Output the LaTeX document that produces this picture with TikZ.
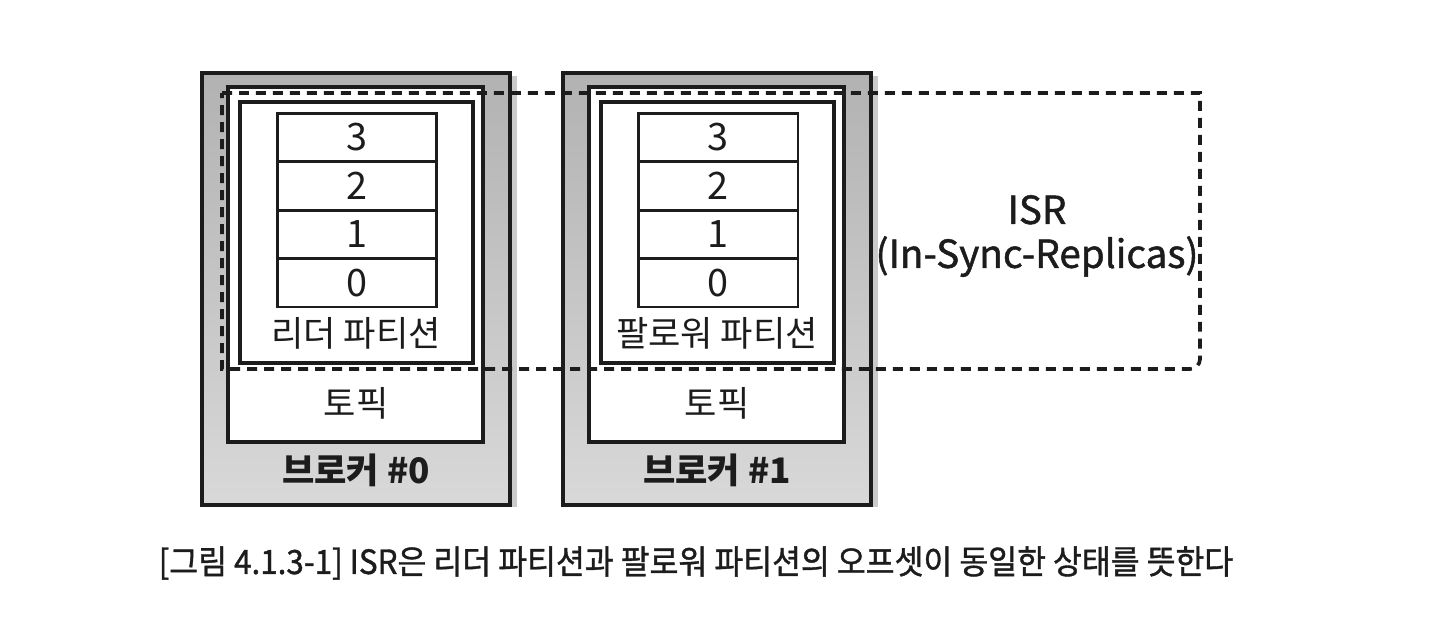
\documentclass[tikz,border=0pt]{standalone}
\usepackage{fontspec}
\setmainfont{Noto Sans CJK KR}
\newfontfamily\heavyfont[FakeBold=1.2]{Noto Sans CJK KR}
\usetikzlibrary{positioning, shadows, calc}
\definecolor{cink}{HTML}{1C1C1C}
\definecolor{cgrey}{HTML}{B2B2B2}
\definecolor{cshade}{HTML}{8A8A8A}
\tikzset{
  every picture/.style={line width=1.7pt, color=cink},
  broker/.style={draw=cink, line width=2.3pt, top color=cgrey, bottom color=cgrey!50,
    minimum width=6.16cm, minimum height=8.64cm, inner sep=0pt,
    drop shadow={shadow xshift=0.14cm, shadow yshift=-0.05cm, fill=cshade, opacity=0.45}},
  topicbox/.style={draw=cink, fill=white, line width=1.9pt, minimum width=5.1cm, minimum height=7.1cm, inner sep=0pt},
  partbox/.style={draw=cink, fill=white, line width=1.9pt, minimum width=4.66cm, minimum height=5.22cm, inner sep=0pt},
  cell/.style={draw=cink, fill=white, line width=1.7pt, minimum width=3.2cm, minimum height=0.97cm, inner sep=0pt, font=\fontsize{21.5}{21.5}\selectfont},
  label/.style={font=\fontsize{20}{20}\selectfont},
  brokerlabel/.style={font=\fontsize{20}{20}\selectfont\bfseries},
  isr/.style={dashed, dash pattern=on 0.2cm off 0.14cm, line width=2.1pt, rounded corners=0.2cm},
  caption/.style={font=\fontsize{19}{19}\selectfont\heavyfont, text=cink},
}
\begin{document}
\begin{tikzpicture}[x=0.02cm, y=-0.02cm]
  \useasboundingbox (0,0) rectangle (1429,632);
  \foreach \role [count=\k from 0] in {리더 파티션, 팔로워 파티션} {
    \node[broker] (b\k) at (356+361*\k,289) {};
    \node[topicbox] (t\k) at (355.5+361*\k,264.5) {};
    \node[partbox] (p\k) at (356.5+361*\k,232.5) {};
    \foreach \v [count=\j from 0] in {3,2,1,0}
      \node[cell] (c\k\v) at (357+361*\k,137.25+48.5*\j) {\v};
    \node[label] (pl\k) at (356+361*\k,333) {\role};
    \node[label] (tl\k) at (356+361*\k,403) {토픽};
    \node[brokerlabel] (bl\k) at (356+361*\k,470) {브로커 \#\k};
  }
  % ISR group
  \coordinate (isrNW) at (222,93);
  \coordinate (isrSE) at (1200,369);
  \draw[isr] (isrNW) [sharp corners] -- (isrNW -| isrSE) [rounded corners=0.2cm] -- (isrSE) [sharp corners] -- (isrSE -| isrNW) -- cycle;
  \node[align=center, font=\fontsize{22}{25}\selectfont\heavyfont] (isrtext) at (1037,236) {ISR\\(In-Sync-Replicas)};
  \node[caption] (cap) at (696,563) {\scalebox{0.94}[1]{[그림 4.1.3-1] ISR은 리더 파티션과 팔로워 파티션의 오프셋이 동일한 상태를 뜻한다}};
\end{tikzpicture}
\end{document}
